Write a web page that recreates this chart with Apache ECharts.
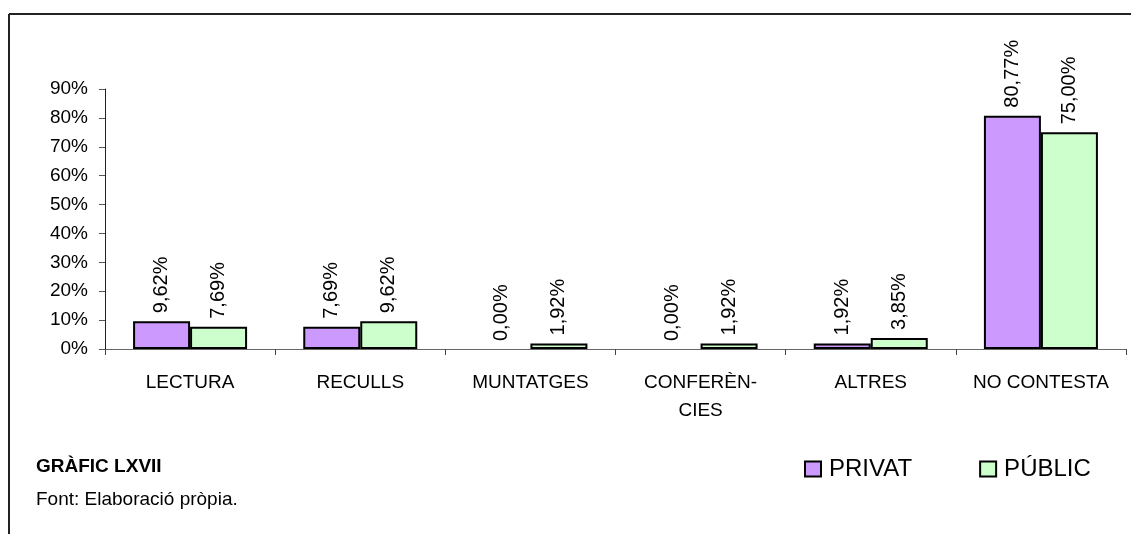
<!DOCTYPE html>
<html>
<head>
<meta charset="utf-8">
<script src="https://cdn.jsdelivr.net/npm/echarts@6/dist/echarts.min.js"></script>
<style>
  html, body { margin: 0; padding: 0; background: #fff; }
  #chart { width: 1131px; height: 534px; }
</style>
</head>
<body>
<div id="chart"></div>
<script>
// categories and values (percent)
const categories = ['LECTURA', 'RECULLS', 'MUNTATGES', 'CONFERÈN-\nCIES', 'ALTRES', 'NO CONTESTA']
const privat = [9.62, 7.69, 0.00, 0.00, 1.92, 80.77]
const public_ = [7.69, 9.62, 1.92, 1.92, 3.85, 75.00]
const yTicks = [0, 10, 20, 30, 40, 50, 60, 70, 80, 90]

const font = 'Arial, "Liberation Sans", sans-serif'

function pct(v) {
  return v.toFixed(2).replace('.', ',') + '%'
}

// zero bars get no outline, like the original
function bars(values) {
  return values.map(v => v === 0 ? { value: v, itemStyle: { borderWidth: 0 } } : v)
}

const barLabel = {
  show: true,
  position: 'top',
  rotate: 90,
  align: 'left',
  verticalAlign: 'middle',
  distance: 8,
  fontSize: 20,
  color: '#000',
  formatter: p => pct(p.value)
}

const chart = echarts.init(document.getElementById('chart'))
chart.setOption({
  animation: false,
  textStyle: { fontFamily: font, color: '#000' },
  grid: { left: 105, right: 5, top: 89, bottom: 185 },
  legend: {
    left: 799,
    top: 452,
    icon: 'rect',
    itemWidth: 16,
    itemHeight: 15,
    itemGap: 67,
    textStyle: { fontSize: 24, color: '#000', padding: [0, 0, 0, 3] },
    data: ['PRIVAT', 'PÚBLIC']
  },
  xAxis: {
    type: 'category',
    data: categories,
    axisLine: { lineStyle: { color: '#666', width: 1 } },
    axisTick: { show: true, interval: 0, length: 6, lineStyle: { color: '#444' } },
    axisLabel: { interval: 0, fontSize: 19, color: '#000', margin: 20, lineHeight: 28 }
  },
  yAxis: {
    type: 'value',
    min: yTicks[0],
    max: yTicks[yTicks.length - 1],
    interval: 10,
    splitLine: { show: false },
    axisLine: { show: true, lineStyle: { color: '#222', width: 1 } },
    axisTick: { show: true, length: 6, lineStyle: { color: '#555' } },
    axisLabel: { fontSize: 19, color: '#000', margin: 17, formatter: '{value}%' }
  },
  series: [
    {
      name: 'PRIVAT',
      type: 'bar',
      data: bars(privat),
      barWidth: 57,
      barGap: '0%',
      itemStyle: { color: '#CC99FF', borderColor: '#000', borderWidth: 2 },
      label: barLabel
    },
    {
      name: 'PÚBLIC',
      type: 'bar',
      data: bars(public_),
      barWidth: 57,
      itemStyle: { color: '#CCFFCC', borderColor: '#000', borderWidth: 2 },
      label: barLabel
    }
  ],
  graphic: [
    // frame
    { type: 'line', shape: { x1: 9, y1: 14, x2: 1131, y2: 14 }, style: { stroke: '#222', lineWidth: 2 } },
    { type: 'line', shape: { x1: 9, y1: 14, x2: 9, y2: 534 }, style: { stroke: '#222', lineWidth: 2 } },
    {
      type: 'text', left: 36, top: 457,
      style: { text: 'GRÀFIC LXVII', fontSize: 19, fontWeight: 'bold', fontFamily: font, fill: '#000' }
    },
    {
      type: 'text', left: 36, top: 490,
      style: { text: 'Font: Elaboració pròpia.', fontSize: 19, fontFamily: font, fill: '#000' }
    }
  ]
})
</script>
</body>
</html>
